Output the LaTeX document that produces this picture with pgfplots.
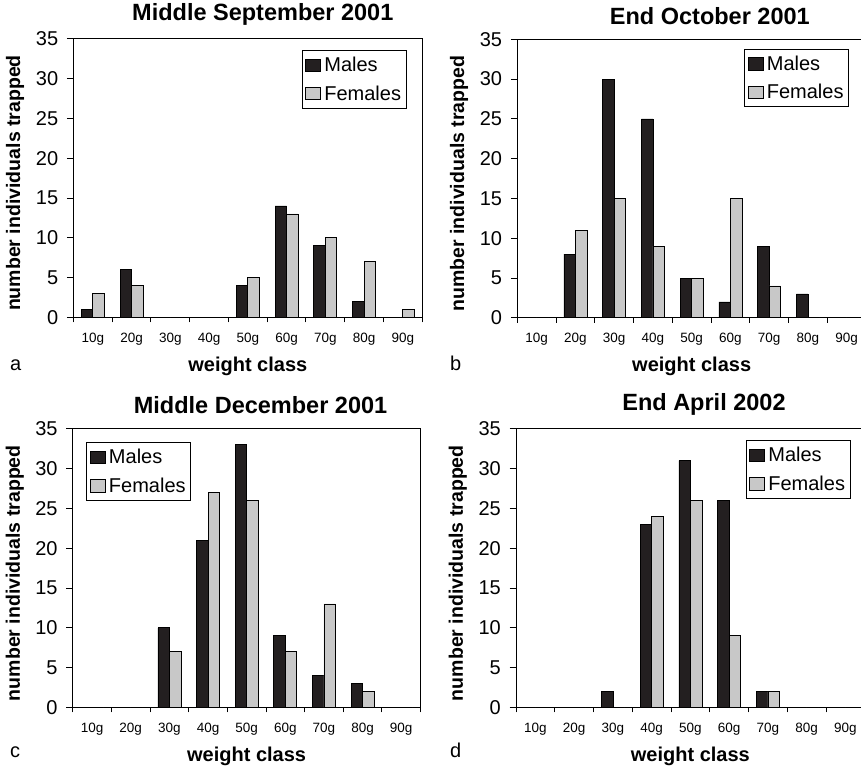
\documentclass[border=0pt]{standalone}
\usepackage{pgfplots}
\pgfplotsset{compat=1.18}
\usepackage{fontspec}
\setmainfont{Liberation Sans}
\definecolor{male}{HTML}{231F20}
\definecolor{female}{HTML}{C8C8C8}
\pgfplotsset{
  panel/.style={
    scale only axis, width=348.8pt, height=278.5pt,
    ybar=0pt, bar width=11.5pt,
    xmin=-0.5, xmax=8.5, ymin=0, ymax=35,
    xtick={0,1,...,8},
    xticklabels={10g,20g,30g,40g,50g,60g,70g,80g,90g},
    minor xtick={-0.5,0.5,1.5,2.5,3.5,4.5,5.5,6.5,7.5,8.5},
    ytick={0,5,...,35},
    tick pos=left, tick align=outside,
    major tick length=6.5pt, minor tick length=5pt,
    major x tick style={draw=none},
    minor x tick style={draw=black, line width=0.9pt},
    ytick style={line width=0.9pt, black},
    axis line style={line width=0.9pt},
    /pgf/number format/assume math mode=true,
    xticklabel style={font=\fontsize{13.5}{16}\selectfont, yshift=-5.5pt},
    yticklabel style={font=\fontsize{20}{24}\selectfont, inner xsep=8.5pt},
    xlabel={weight class}, ylabel={number individuals trapped},
    xlabel style={font=\bfseries\fontsize{20}{24}\selectfont, at={(axis description cs:0.5,-0.1945)}, anchor=base},
    ylabel style={font=\bfseries\fontsize{19.5}{24}\selectfont, at={(axis description cs:-0.167,0.482)}, anchor=center},
    legend style={draw=black, line width=0.9pt, fill=white, font=\fontsize{20}{24}\selectfont, inner xsep=3pt, inner ysep=4.5pt, row sep=8.4pt},
    legend cell align=left,
    legend image code/.code={\draw[##1, line width=0.7pt, draw=black] (0pt,-6.25pt) rectangle (15pt,6.25pt); \path[draw=none, fill=none] (0pt,0pt) -- (17pt,0pt);},
  },
  males/.style={fill=male, draw=black, line width=0.7pt},
  females/.style={fill=female, draw=black, line width=0.7pt},
  ttl/.style={title style={font=\bfseries\fontsize{23.5}{28}\selectfont, anchor=base, at={(axis description cs:#1)}}},
}
\begin{document}
\begin{tikzpicture}
\useasboundingbox (0,0) rectangle (861pt,-766pt);
\clip (0,0) rectangle (861pt,-766pt);

% Panel a
\begin{axis}[panel, at={(73.4pt,-317.3pt)}, anchor=south west,
  title={Middle September 2001}, ttl={0.543,1.044},
  legend style={at={(0.955,0.959)}, anchor=north east}]
\addplot[males] coordinates {(0,1) (1,6) (2,0) (3,0) (4,4) (5,14) (6,9) (7,2) (8,0)};
\addplot[females] coordinates {(0,3) (1,4) (2,0) (3,0) (4,5) (5,13) (6,10) (7,7) (8,1)};
\legend{Males,Females}
\end{axis}

% Panel b
\begin{axis}[panel, at={(517.3pt,-317.8pt)}, anchor=south west,
  title={End October 2001}, ttl={0.552,1.0325},
  legend style={at={(0.951,0.965)}, anchor=north east}]
\addplot[males] coordinates {(0,0) (1,8) (2,30) (3,25) (4,5) (5,2) (6,9) (7,3) (8,0)};
\addplot[females] coordinates {(0,0) (1,11) (2,15) (3,9) (4,5) (5,15) (6,4) (7,0) (8,0)};
\legend{Males,Females}
\end{axis}

% Panel c
\begin{axis}[panel, at={(72.8pt,-707.4pt)}, anchor=south west, width=347.7pt,
  title={Middle December 2001}, ttl={0.540,1.0325},
  legend style={at={(0.0385,0.952)}, anchor=north west}]
\addplot[males] coordinates {(0,0) (1,0) (2,10) (3,21) (4,33) (5,9) (6,4) (7,3) (8,0)};
\addplot[females] coordinates {(0,0) (1,0) (2,7) (3,27) (4,26) (5,7) (6,13) (7,2) (8,0)};
\legend{Males,Females}
\end{axis}

% Panel d
\begin{axis}[panel, at={(516pt,-707.4pt)}, anchor=south west,
  title={End April 2002}, ttl={0.539,1.046},
  legend style={at={(0.959,0.959)}, anchor=north east}]
\addplot[males] coordinates {(0,0) (1,0) (2,2) (3,23) (4,31) (5,26) (6,2) (7,0) (8,0)};
\addplot[females] coordinates {(0,0) (1,0) (2,0) (3,24) (4,26) (5,9) (6,2) (7,0) (8,0)};
\legend{Males,Females}
\end{axis}

\node[anchor=base west, font=\fontsize{20}{24}\selectfont, inner sep=0pt] at (10pt,-370pt) {a};
\node[anchor=base west, font=\fontsize{20}{24}\selectfont, inner sep=0pt] at (450pt,-370pt) {b};
\node[anchor=base west, font=\fontsize{20}{24}\selectfont, inner sep=0pt] at (10pt,-757pt) {c};
\node[anchor=base west, font=\fontsize{20}{24}\selectfont, inner sep=0pt] at (450pt,-757pt) {d};
\end{tikzpicture}
\end{document}
